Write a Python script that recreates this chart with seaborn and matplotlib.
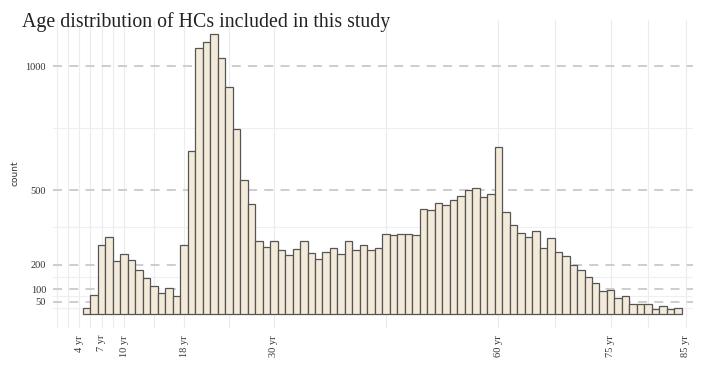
import matplotlib
matplotlib.use('Agg')
import matplotlib.pyplot as plt
import seaborn as sns
import pandas as pd

# Datos: número de HCs por año de edad
ages = list(range(5, 85))
counts = [25, 79, 281, 310, 214, 242, 218, 178, 146, 113,
          87, 106, 75, 277, 659, 1074, 1098, 1131, 1034, 915,
          747, 541, 444, 296, 270, 297, 258, 238, 264, 297,
          248, 222, 249, 266, 241, 297, 257, 277, 258, 266,
          322, 320, 324, 324, 320, 425, 419, 448, 440, 459,
          477, 502, 509, 471, 483, 673, 411, 359, 326, 312,
          335, 268, 308, 252, 234, 198, 178, 148, 124, 94,
          99, 67, 74, 40, 41, 39, 20, 33, 21, 23]

tick_ages = [4, 7, 10, 18, 30, 60, 75, 85]
tick_labels = [f"{a} yr" for a in tick_ages]
minor_x = [1, 2.5, 5.5, 8.5, 14, 24, 45, 67.5, 80]
y_ticks = [50, 100, 200, 500, 1000]
minor_y = [25, 75, 150, 350, 750]

df = pd.DataFrame({'age': ages, 'count': counts})

sns.set_style('white')
plt.rcParams['font.family'] = ['Liberation Serif', 'DejaVu Serif']

fig = plt.figure(figsize=(7.2, 3.66), dpi=100)
ax = fig.add_axes([0.0736, 0.1038, 0.889, 0.8415])

sns.histplot(data=df, x='age', weights='count', discrete=True,
             color='#f3ead9', edgecolor='#555555', linewidth=0.9,
             alpha=1, ax=ax)

ax.set_xlim(0.5, 86)
ax.set_ylim(-56, 1187)

# Rejilla
ax.set_xticks(tick_ages, tick_labels, rotation=90)
ax.set_xticks(minor_x, minor=True)
ax.set_yticks(y_ticks, [str(v) for v in y_ticks])
ax.set_yticks(minor_y, minor=True)
ax.set_axisbelow(True)
ax.grid(axis='x', which='both', color='#ececec', linewidth=0.8)
ax.grid(axis='y', which='minor', color='#efefef', linewidth=0.8)
ax.grid(axis='y', which='major', color='#c9c9c9', linewidth=1.3,
        linestyle=(0, (5, 4)))

for s in ax.spines.values():
    s.set_visible(False)

ax.tick_params(which='major', length=3, width=0.8, color='#444444',
               labelsize=7.5, labelcolor='#333333', pad=2)
ax.tick_params(which='minor', length=0)

ax.set_xlabel('')
ax.set_ylabel('count', fontsize=6.5, family='DejaVu Sans', color='#333333')
ax.yaxis.set_label_coords(-0.052, 0.503)

fig.text(0.031, 1 - 27.5 / 366, 'Age distribution of HCs included in this study',
         fontsize=14.3, va='baseline', ha='left', color='#222222')

plt.savefig('out.png', dpi=100)
